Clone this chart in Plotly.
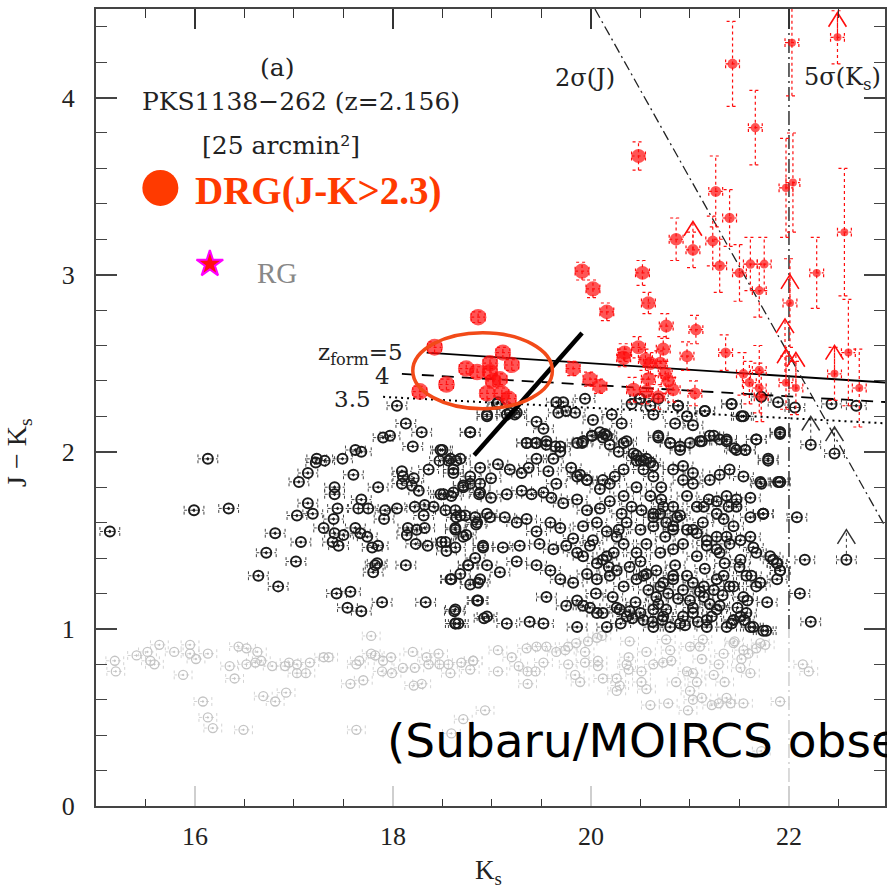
import plotly.graph_objects as go
import numpy as np

# ---------------- data ----------------
# black: 1.0 < J-K < 2.3 galaxies
blk_a_x = [15.14,15.99,16.34,16.13,16.81,17.07,16.72,17.02,16.64,16.84,
           17.05,17.14,17.23,17.22,17.31,17.49,17.60,17.41,17.41,17.14,
           17.03,17.19,17.44,17.40,17.30,17.41,17.39,17.45,17.50,17.62,
           17.68,17.68,17.65,17.75,17.62,17.67,17.74,17.85,17.92,18.04,
           17.91,17.79,17.85,17.84,17.82,17.80,18.13,17.43,17.57,17.54,
           17.68,17.89,18.33,18.62,18.63,18.66,18.92,17.90,17.97,18.29,
           18.78,18.20,18.50,18.47,18.56,18.64,18.36,18.09,18.10,18.21,
           18.09,18.19,18.26,18.61,18.78,18.71,18.88,18.51,18.59,18.87,
           18.22,18.32,18.41,18.31,18.63,18.64,18.73,18.83,18.84,18.95,
           18.15,18.24,18.32,18.14,18.63,18.74,18.23,18.35,18.49,18.54,
           18.63,18.91,18.83,18.76,18.95,18.68,18.58,18.78,18.86,18.86,
           18.04,18.13,18.95,19.06,19.23,19.15]
blk_a_y = [1.55,1.67,1.68,1.96,1.54,1.49,1.43,1.38,1.30,1.24,
           1.83,1.88,1.96,1.94,1.95,1.96,1.87,1.80,1.76,1.71,
           1.64,1.65,1.68,1.62,1.57,1.54,1.49,1.47,1.53,2.01,
           2.00,1.73,1.68,1.68,1.57,1.54,1.52,1.80,1.67,1.68,
           1.62,1.46,1.47,1.37,1.36,1.32,1.36,1.20,1.21,1.12,
           1.10,1.15,1.15,1.10,1.03,1.03,1.06,2.08,2.09,2.11,
           2.11,2.03,2.01,1.95,1.95,1.95,1.90,1.89,1.86,1.85,
           1.82,1.81,1.78,1.88,1.86,1.81,1.82,1.76,1.75,1.76,
           1.69,1.70,1.69,1.64,1.67,1.63,1.64,1.63,1.59,1.65,
           1.57,1.56,1.57,1.53,1.56,1.53,1.48,1.47,1.49,1.44,
           1.46,1.46,1.40,1.36,1.36,1.31,1.28,1.25,1.26,1.16,
           2.26,2.16,2.20,2.28,2.21,2.21]

blk_b_x = [19.05,18.95,19.18,19.25,18.78,18.48,19.45,19.52,
           19.65,19.72,19.67,19.75,19.84,19.94,20.02,20.09,20.16,20.21,20.31,20.41,20.50,20.60,20.68,
           20.63,20.88,20.85,20.97,21.15,21.03,21.42,21.52,21.89,21.91,21.91,
           19.35,19.45,19.55,19.64,19.69,19.86,19.92,20.01,20.12,20.19,20.28,20.36,
           20.43,20.50,20.56,20.63,20.68,20.80,20.90,21.12,21.20,21.30,21.37,21.45,21.56,21.67,21.79,
           18.58,18.68,18.61,18.88,18.99,19.06,19.18,
           19.30,19.37,19.45,19.62,19.57,19.65,19.80,19.89,19.96,
           20.12,20.24,20.33,20.46,20.53,20.63,20.71,20.83,20.93,21.03,21.20,21.30,21.40,21.54,21.71,21.89,
           18.48,18.61,18.71,18.78,18.88,18.99,19.15,19.30,19.40,19.52,19.60,19.72,19.86,19.96,20.09,
           20.19,20.31,20.41,20.51,20.63,20.71,20.83,20.97,21.07,21.19,21.27,21.39,21.47,21.61,21.74,
           18.53,18.68,18.63,18.85,18.98,19.13,19.25,19.35,19.45,19.59,19.69,19.82,19.92,20.06,20.16,
           20.26,20.36,20.50,20.63,20.75,20.83,20.90,21.03,21.13,21.27,21.34,21.44,21.61,21.74,21.84,
           18.53,18.71,18.91,19.11,19.28,19.48,19.62,19.75,19.86,19.99,20.12,20.23,20.33,
           20.46,20.56,20.70,20.83,20.93,21.07,21.17,21.30,21.40,21.51,21.67,21.88,21.91,
           18.59,18.76,18.88,19.08,19.25,19.45,19.59,19.69,19.82,19.96,20.06,20.19,
           20.33,20.46,20.56,20.70,20.83,20.97,21.14,21.27,21.40,21.57,21.71,21.88,
           18.63,18.63,18.85,18.95,19.15,19.38,19.52,19.55,19.75,19.86,19.92,20.06,20.16,20.29,
           20.36,20.50,20.63,20.66,20.76,20.90,21.03,21.17,21.30,21.44,21.57,21.64,21.77]
blk_b_y = [2.27,2.21,2.22,2.22,2.11,2.01,2.17,2.13,
           2.28,2.28,2.22,2.23,2.22,2.30,2.18,2.11,2.09,2.21,2.16,2.27,2.30,2.26,2.30,
           2.21,2.26,2.16,2.20,2.23,2.15,2.27,2.20,2.28,2.11,1.83,
           2.05,2.05,2.06,2.03,2.00,2.05,2.06,2.09,2.08,2.04,2.00,2.06,
           1.99,1.95,1.96,1.92,2.08,2.05,2.03,2.06,2.09,2.07,2.07,2.02,2.01,2.07,1.96,
           1.96,1.96,1.90,1.91,1.85,1.93,1.90,
           1.88,1.91,1.96,1.96,1.89,1.82,1.91,1.87,1.84,
           1.84,1.86,1.90,1.95,1.90,1.86,1.80,1.90,1.92,1.88,1.84,1.87,1.90,1.86,1.83,1.83,
           1.76,1.77,1.80,1.82,1.77,1.74,1.76,1.78,1.76,1.77,1.74,1.71,1.73,1.67,1.68,
           1.72,1.65,1.69,1.67,1.65,1.73,1.69,1.75,1.69,1.73,1.72,1.69,1.73,1.74,1.65,
           1.67,1.64,1.57,1.60,1.63,1.63,1.60,1.62,1.55,1.60,1.57,1.51,1.58,1.60,1.55,
           1.52,1.60,1.56,1.58,1.52,1.58,1.64,1.56,1.60,1.52,1.62,1.58,1.52,1.65,1.39,
           1.49,1.52,1.47,1.46,1.47,1.48,1.45,1.47,1.43,1.47,1.39,1.43,1.48,
           1.43,1.48,1.43,1.45,1.48,1.41,1.47,1.43,1.48,1.39,1.43,1.37,1.33,
           1.28,1.36,1.28,1.32,1.38,1.36,1.33,1.28,1.26,1.31,1.28,1.30,
           1.24,1.28,1.31,1.24,1.28,1.30,1.24,1.28,1.24,1.30,1.26,1.28,
           1.11,1.03,1.16,1.07,1.03,1.04,1.03,1.18,1.13,1.01,1.13,1.09,1.01,1.11,
           1.07,1.09,1.01,1.18,1.11,1.03,1.09,1.01,1.13,1.05,1.09,1.01,0.99]

blk_c_x = [19.35,19.44,19.55,19.69,19.91,20.01,20.14,20.33,20.46,20.53,20.60,20.68,20.80,
           20.90,21.00,21.10,21.24,21.37,21.47,21.56,21.67,21.79,21.91,21.91,21.74,21.72,
           22.08,22.16,22.11,22.22,22.22,22.46,22.58,22.06,22.43,22.68,
           19.86,19.96,20.09,20.19,20.33,20.46,20.60,20.73,20.87,20.93,21.03,21.14,21.27,21.37,21.47,21.61,
           20.63,20.70,20.76,20.83,20.97,21.07,21.17,21.27,21.37,21.51,21.64,21.81,21.88,21.91,
           19.92,20.06,20.16,20.26,20.39,20.53,20.66,20.73,20.83,20.93,21.03,21.14,21.24,21.34,21.44,21.54,21.62,21.67,
           19.86,19.99,20.12,20.26,20.39,20.53,20.63,20.73,20.80,20.93,21.03,21.17,21.27,21.37,21.51,21.61,21.74,21.78,
           20.49,20.88,21.15,21.54,21.42,21.91,21.72,
           20.05,20.22,20.45,20.58,20.68,20.78,20.88,21.00,21.10,21.20,21.33,21.48,21.58,20.30,20.42,
           20.62,20.72,20.95,21.08,21.22,21.42,21.55,20.18,20.50,20.85,21.15,21.35,21.50,20.02,20.28]
blk_c_y = [2.05,2.05,2.04,2.03,2.05,2.09,2.10,2.05,1.98,1.95,1.94,2.09,2.05,
           2.01,2.05,2.06,2.09,2.06,2.01,2.01,2.07,1.95,2.10,1.83,1.65,1.82,
           1.63,1.39,1.20,1.04,2.04,1.99,1.39,2.25,2.27,2.26,
           1.86,1.84,1.79,1.82,1.75,1.80,1.75,1.69,1.63,1.84,1.82,1.69,1.65,1.75,1.69,1.63,
           1.63,1.65,1.60,1.56,1.56,1.54,1.50,1.45,1.52,1.50,1.46,1.41,1.37,1.33,
           1.41,1.37,1.41,1.33,1.35,1.30,1.33,1.26,1.30,1.22,1.26,1.18,1.22,1.30,1.24,1.18,1.30,1.24,
           1.16,1.12,1.09,1.12,1.10,1.05,1.11,1.07,1.01,1.07,1.12,1.05,1.11,1.01,1.07,1.01,0.99,1.15,
           2.30,2.26,2.23,2.20,2.27,2.11,2.31,
           1.20,1.18,1.15,1.22,1.14,1.20,1.17,1.16,1.21,1.14,1.19,1.12,1.16,1.03,1.06,
           1.04,1.05,1.02,1.04,1.07,1.03,1.05,1.35,1.38,1.36,1.34,1.37,1.35,1.50,1.56]

# gray: J-K < 1 galaxies
gry_a_x = [15.19,15.20,15.41,15.52,15.55,15.59,15.64,15.79,15.88,15.95,
           15.95,16.01,16.13,16.08,16.13,16.18,16.35,16.40,16.44,16.52,
           16.63,16.52,16.61,16.67,16.49,16.69,16.81,16.92,16.78,16.91,
           16.95,17.03,17.12,17.03,17.16,17.30,17.35,17.57,17.63,17.63,
           17.66,17.70,17.78,17.78,17.82,17.90,17.98,17.89,17.99,18.10,
           18.22,18.20,18.21,18.29,18.34,18.46,18.36,18.47,18.56,18.58,
           18.78,18.81,18.71,18.93,18.59]
gry_a_y = [0.82,0.76,0.85,0.87,0.82,0.80,0.91,0.87,0.74,0.91,
           0.86,0.83,0.86,0.59,0.50,0.44,0.79,0.72,0.90,0.89,
           0.87,0.80,0.81,0.82,0.43,0.62,0.59,0.64,0.79,0.79,
           0.81,0.75,0.75,0.80,0.81,0.84,0.84,0.69,0.43,0.80,
           0.82,0.71,0.96,0.86,0.85,0.82,0.84,0.76,0.75,0.78,
           0.78,0.87,0.68,0.69,0.84,0.86,0.80,0.80,0.80,0.75,
           0.77,0.82,0.49,0.54,0.41]
gry_b_x = [18.69,18.81,19.06,19.06,19.20,19.27,19.35,19.45,19.36,19.44,
           19.36,19.52,19.55,19.65,19.74,19.77,19.85,19.94,19.97,20.06,
           20.11,19.84,19.89,19.77,19.94,20.07,20.07,20.12,20.26,20.26,
           20.29,20.39,20.38,20.36,20.38,20.51,20.56,20.60,20.63,20.51,
           20.56,20.73,20.81,20.76,20.80,20.78,20.86,20.97,21.00,20.98,
           21.03,21.07,21.12,21.03,21.00,21.10,21.13,21.12,21.24,21.29,
           21.34,21.35,21.22,21.29,21.37,21.41,21.44,21.45,21.51,21.52,
           21.54,21.59,21.61,21.67,21.71,21.76,21.54,21.91,21.72,22.14,22.20]
gry_b_y = [0.81,0.82,0.88,0.76,0.84,0.79,0.89,0.90,0.76,0.76,
           0.69,0.81,0.90,0.87,0.88,0.90,0.92,0.87,0.93,0.95,
           0.96,0.74,0.70,0.80,0.81,0.82,0.79,0.72,0.72,0.65,
           0.68,0.93,0.84,0.80,0.77,0.76,0.87,0.57,0.80,0.70,
           0.66,0.81,0.82,0.94,0.88,0.58,0.70,0.76,0.90,0.54,
           0.75,0.70,0.61,0.60,0.65,0.90,0.94,0.83,0.74,0.80,
           0.86,0.70,0.57,0.58,0.61,0.58,0.92,0.93,0.78,0.83,
           0.88,0.86,0.75,0.89,0.92,0.91,0.58,0.59,0.31,0.80,0.76]

# red: DRGs (J-K > 2.3)
red_x = [18.42,18.27,18.54,18.74,18.85,18.86,18.98,18.98,19.11,19.20,
         19.08,19.01,18.95,19.10,19.17,19.82,19.99,20.09,19.91,20.02,
         20.16,20.48,20.52,20.58,20.34,20.33,20.48,20.55,20.60,20.73,
         20.70,20.76,21.06,20.97,21.36,20.75,20.58,20.78,20.43,20.56,
         20.68,20.83,21.05,20.86,21.03,21.23,21.40,21.26,21.30,21.50,
         21.61,21.75,21.70,21.54,21.60,21.70,21.70,21.72,21.43,21.66,
         22.03,22.49,21.97,22.04,22.01,22.28,22.56,21.97,22.07,22.46,
         22.60,22.71]
red_y = [2.59,2.34,2.38,2.47,2.45,2.76,2.50,2.45,2.56,2.49,
         2.41,2.40,2.33,2.33,2.30,2.47,2.41,2.37,3.02,2.92,
         2.79,3.67,3.01,2.84,2.56,2.53,2.59,2.52,2.50,2.58,
         2.50,2.71,2.69,2.54,2.56,2.44,2.41,2.40,2.35,2.34,
         2.31,2.35,2.33,3.20,3.14,3.19,3.32,3.47,3.05,3.01,
         3.06,3.06,2.91,2.44,2.39,2.46,2.36,2.31,4.19,3.83,
         4.31,4.34,3.49,3.52,2.84,3.01,3.24,2.39,2.36,2.44,
         2.56,2.36]
red_ey = [0.03,0.03,0.03,0.03,0.03,0.03,0.03,0.03,0.03,0.03,
          0.03,0.03,0.03,0.03,0.03,0.04,0.04,0.04,0.05,0.05,
          0.05,0.08,0.07,0.06,0.05,0.05,0.06,0.06,0.06,0.07,
          0.07,0.07,0.08,0.08,0.10,0.07,0.07,0.07,0.07,0.07,
          0.07,0.07,0.07,0.12,0.10,0.14,0.16,0.20,0.15,0.16,
          0.15,0.15,0.15,0.12,0.12,0.14,0.14,0.14,0.24,0.21,
          0.30,0.15,0.28,0.28,0.25,0.20,0.36,0.15,0.15,0.15,
          0.30,0.22]

# lower limits (point J-K, arrow tip J-K)
red_lim_x = [21.03, 22.01, 21.97, 22.07, 22.46, 22.49, 21.96]
red_lim_y = [3.14, 2.84, 2.39, 2.36, 2.44, 4.34, 2.45]
red_lim_top = [3.30, 3.00, 2.58, 2.56, 2.60, 4.48, 2.75]
blk_lim_x = [22.22, 22.46, 22.58]
blk_lim_y = [2.04, 1.99, 1.39]
blk_lim_top = [2.20, 2.14, 1.56]

# model tracks (z_form) and limits
zf5_x, zf5_y = [18.34, 23.0], [2.56, 2.39]
zf4_x, zf4_y = [18.09, 23.0], [2.44, 2.28]
zf35_x, zf35_y = [17.90, 23.0], [2.31, 2.16]
j2sig_x, j2sig_y = [20.04, 23.0], [4.50, 1.55]
k5sig = 22.0
cut_x, cut_y = [18.82, 19.91], [1.98, 2.67]
ell_x, ell_y = [18.20, 19.61], [2.243, 2.672]
rg_x, rg_y = [16.15], [3.06]

# ---------------- helpers ----------------
def pairs(xs, ys):
    n = min(len(xs), len(ys))
    return np.array(xs[:n], float), np.array(ys[:n], float)

def hbars(xs, ys, ex, cap):
    X, Y = [], []
    for x, y in zip(xs, ys):
        X += [x - ex, x + ex, None, x - ex, x - ex, None, x + ex, x + ex, None]
        Y += [y, y, None, y - cap, y + cap, None, y - cap, y + cap, None]
    return X, Y

def vbars(xs, ys, eys, cap):
    X, Y = [], []
    for x, y, e in zip(xs, ys, eys):
        X += [x, x, None, x - cap, x + cap, None, x - cap, x + cap, None]
        Y += [y - e, y + e, None, y - e, y - e, None, y + e, y + e, None]
    return X, Y

def limits(xs, ys, tops, dx=0.09, dy=0.08):
    X, Y, AX, AY = [], [], [], []
    for x, y, t in zip(xs, ys, tops):
        X += [x, x, None]
        Y += [y, t, None]
        AX += [x - dx, x, x + dx, None]
        AY += [t - dy, t, t - dy, None]
    return X, Y, AX, AY

ax1, ay1 = pairs(blk_a_x, blk_a_y)
ax2, ay2 = pairs(blk_b_x, blk_b_y)
ax3, ay3 = pairs(blk_c_x, blk_c_y)
bx = np.concatenate([ax1, ax2, ax3]); by = np.concatenate([ay1, ay2, ay3])
g1x, g1y = pairs(gry_a_x, gry_a_y)
g2x, g2y = pairs(gry_b_x, gry_b_y)
gx = np.concatenate([g1x, g2x]); gy = np.concatenate([g1y, g2y])
n_r = min(len(red_x), len(red_y), len(red_ey))
rx = np.array(red_x[:n_r]); ry = np.array(red_y[:n_r]); rey = np.array(red_ey[:n_r])
rsize = np.interp(rx, [18.2, 19.5, 20.5, 21.2, 22.0], [17, 16, 14, 11, 8])

fig = go.Figure()
RED = "#ff0d0d"

# gray points
ex_, ey_ = hbars(gx, gy, 0.09, 0.025)
fig.add_trace(go.Scatter(x=ex_, y=ey_, mode="lines", line=dict(color="#d4d4d4", width=1, dash="dot"), hoverinfo="skip"))
fig.add_trace(go.Scatter(x=gx, y=gy, mode="markers",
                         marker=dict(symbol="circle-open-dot", size=9, color="#c4c4c4", line=dict(width=1.3))))

# black points
ex_, ey_ = hbars(bx, by, 0.10, 0.025)
fig.add_trace(go.Scatter(x=ex_, y=ey_, mode="lines", line=dict(color="#444", width=1, dash="dot"), hoverinfo="skip"))
fig.add_trace(go.Scatter(x=bx, y=by, mode="markers",
                         marker=dict(symbol="circle-open-dot", size=10, color="#1c1c1c", line=dict(width=2))))
lx, ly, ax_, ay_ = limits(blk_lim_x, blk_lim_y, blk_lim_top)
fig.add_trace(go.Scatter(x=lx, y=ly, mode="lines", line=dict(color="#333", width=1, dash="dot")))
fig.add_trace(go.Scatter(x=ax_, y=ay_, mode="lines", line=dict(color="#333", width=1.5)))

# limit lines
fig.add_trace(go.Scatter(x=zf5_x, y=zf5_y, mode="lines", line=dict(color="black", width=1.8)))
fig.add_trace(go.Scatter(x=zf4_x, y=zf4_y, mode="lines", line=dict(color="black", width=1.8, dash="12px,8px")))
fig.add_trace(go.Scatter(x=zf35_x, y=zf35_y, mode="lines", line=dict(color="black", width=2, dash="2px,4px")))
fig.add_trace(go.Scatter(x=j2sig_x, y=j2sig_y, mode="lines", line=dict(color="#222", width=1.3, dash="10px,4px,2px,4px")))
fig.add_trace(go.Scatter(x=[k5sig, k5sig], y=[1.0, 4.5], mode="lines", line=dict(color="#333", width=1.5, dash="14px,4px,2px,4px")))
fig.add_trace(go.Scatter(x=[k5sig, k5sig], y=[0.0, 1.0], mode="lines", line=dict(color="#cfcfcf", width=1.5, dash="14px,4px,2px,4px")))

# red DRGs
ex_, ey_ = hbars(rx, ry, 0.07, 0.025)
vx_, vy_ = vbars(rx, ry, rey, 0.06)
fig.add_trace(go.Scatter(x=ex_ + vx_, y=ey_ + vy_, mode="lines", line=dict(color=RED, width=1.2, dash="dot"), hoverinfo="skip"))
fig.add_trace(go.Scatter(x=rx, y=ry, mode="markers", marker=dict(symbol="circle", size=rsize, color=RED, line=dict(width=0))))
lx, ly, ax_, ay_ = limits(red_lim_x, red_lim_y, red_lim_top)
fig.add_trace(go.Scatter(x=lx, y=ly, mode="lines", line=dict(color=RED, width=1.2, dash="dot")))
fig.add_trace(go.Scatter(x=ax_, y=ay_, mode="lines", line=dict(color=RED, width=1.6)))

# selection cut and ellipse
fig.add_trace(go.Scatter(x=cut_x, y=cut_y, mode="lines", line=dict(color="black", width=4.5)))
fig.add_shape(type="circle", xref="x", yref="y", x0=ell_x[0], x1=ell_x[1], y0=ell_y[0], y1=ell_y[1],
              line=dict(color="#f24a18", width=3.5))

# legend symbols
fig.add_trace(go.Scatter(x=[15.65], y=[3.49], mode="markers", marker=dict(size=36, color="#ff3a00")))
fig.add_trace(go.Scatter(x=rg_x, y=rg_y, mode="markers",
                         marker=dict(symbol="star", size=20, color="#ff1010", line=dict(color="#ff00ff", width=2))))
# dummy on top axis
fig.add_trace(go.Scatter(x=[15.5], y=[0.2], xaxis="x2", mode="markers", marker=dict(opacity=0), hoverinfo="skip"))

SERIF = "Liberation Serif"
DSERIF = "DejaVu Serif"
ann = [
    dict(x=16.83, y=4.17, text="(a)", font=dict(family=DSERIF, size=25, color="#222")),
    dict(x=17.07, y=3.98, text="PKS1138−262 (z=2.156)", font=dict(family=DSERIF, size=25, color="#222")),
    dict(x=16.87, y=3.73, text="[25 arcmin²]", font=dict(family=DSERIF, size=25, color="#222")),
    dict(x=15.98, y=3.47, text="<b>DRG(J-K>2.3)</b>", xanchor="left", font=dict(family=SERIF, size=39, color="#ff3a00")),
    dict(x=16.83, y=3.01, text="RG", font=dict(family=SERIF, size=29, color="#888")),
    dict(x=19.94, y=4.11, text="2σ(J)", font=dict(family=DSERIF, size=24, color="#222")),
    dict(x=22.13, y=4.11, text="5σ(K<sub>s</sub>)", xanchor="left", font=dict(family=DSERIF, size=24, color="#222")),
    dict(x=18.12, y=2.55, text="z<sub>form</sub>=5", xanchor="right", font=dict(family=DSERIF, size=23, color="#222")),
    dict(x=17.89, y=2.43, text="4", font=dict(family=DSERIF, size=23, color="#222")),
    dict(x=17.59, y=2.30, text="3.5", font=dict(family=DSERIF, size=23, color="#222")),
    dict(x=17.92, y=0.37, text="(Subaru/MOIRCS observations)", xanchor="left",
         font=dict(family="DejaVu Sans", size=47, color="black")),
]
for a in ann:
    a.setdefault("xanchor", "center")
    a.update(xref="x", yref="y", showarrow=False, yanchor="middle")
    fig.add_annotation(**a)

fig.add_annotation(xref="paper", yref="paper", x=0.498, y=-0.083, text="K<sub>s</sub>", showarrow=False,
                   font=dict(family=SERIF, size=27, color="#222"), yanchor="middle")
fig.add_annotation(xref="paper", yref="paper", x=-0.099, y=0.444, text="J − K<sub>s</sub>", showarrow=False,
                   textangle=-90, font=dict(family=SERIF, size=28, color="#222"), xanchor="center", yanchor="middle")

tickfont = dict(family=SERIF, size=26, color="#222")
fig.update_layout(
    width=887, height=890, margin=dict(l=96, r=0, t=9, b=84),
    paper_bgcolor="white", plot_bgcolor="white", showlegend=False,
    xaxis=dict(range=[15, 22.97], showline=True, linecolor="#444", linewidth=2, mirror=False,
               ticks="inside", tickvals=[16, 18, 20, 22], ticklen=20, tickwidth=1.5, tickcolor="#cfcfcf",
               minor=dict(dtick=0.5, tick0=15, ticks="inside", ticklen=7, tickwidth=1.3, tickcolor="#333"),
               showgrid=False, zeroline=False, tickfont=tickfont, ticklabelstandoff=6),
    xaxis2=dict(range=[15, 22.97], overlaying="x", side="top", showline=True, linecolor="#444", linewidth=2,
                ticks="inside", tickvals=[16, 18, 20, 22], ticklen=20, tickwidth=1.5, tickcolor="#333",
                minor=dict(dtick=0.5, tick0=15, ticks="inside", ticklen=9, tickwidth=1.3, tickcolor="#333"),
                showticklabels=False, showgrid=False, zeroline=False),
    yaxis=dict(range=[0, 4.5], showline=True, linecolor="#444", linewidth=2, mirror="ticks",
               ticks="inside", tickvals=[0, 1, 2, 3, 4], ticklen=21, tickwidth=1.5, tickcolor="#444",
               minor=dict(dtick=0.2, tick0=0, ticks="inside", ticklen=11, tickwidth=1.3, tickcolor="#444"),
               showgrid=False, zeroline=False, tickfont=tickfont, ticklabelstandoff=14),
)
fig.write_html("out.html")
